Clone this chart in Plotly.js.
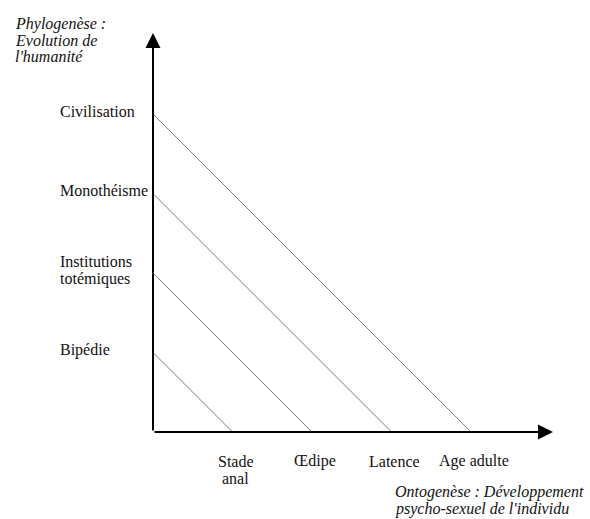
<!DOCTYPE html>
<html><head><meta charset="utf-8">
<script src="https://cdn.plot.ly/plotly-3.0.1.min.js"></script>
<style>html,body{margin:0;padding:0;background:#fff}</style>
</head><body>
<div id="chart" style="width:590px;height:519px"></div>
<script>
// ---- data ----
const phyloLabels = ["Bipédie", "Institutions\ntotémiques", "Monothéisme", "Civilisation"];
const phyloLevels = [1, 2, 3, 4];
const ontoLabels = ["Stade\nanal", "Œdipe", "Latence", "Age adulte"];
const ontoLevels = [1, 2, 3, 4];
const yAxisTitle = "Phylogenèse :\nEvolution de\nl'humanité";
const xAxisTitle = "Ontogenèse : Développement\npsycho-sexuel de l'individu";

// ---- style ----
const FONT = "Liberation Serif";
const TXT = "#111";
const xMax = 5.03, yMax = 5.02;

const traces = phyloLevels.map((lv, i) => ({
  type: "scatter", mode: "lines",
  x: [0, ontoLevels[i]], y: [lv, 0],
  line: {color: "#7c7c7c", width: 1},
  hoverinfo: "skip", showlegend: false
}));

const ann = [];
ann.push({xref: "x", yref: "y", axref: "x", ayref: "y", x: xMax, y: 0, ax: 0, ay: 0,
  text: "", showarrow: true, arrowhead: 2, arrowsize: 1.5, arrowwidth: 2, arrowcolor: "#000", standoff: 0});
ann.push({xref: "x", yref: "y", axref: "x", ayref: "y", x: 0, y: yMax, ax: 0, ay: 0,
  text: "", showarrow: true, arrowhead: 2, arrowsize: 1.5, arrowwidth: 2, arrowcolor: "#000", standoff: 0});

phyloLabels.forEach((lab, i) => {
  const lines = lab.split("\n");
  const n = lines.length;
  lines.forEach((t, j) => {
    ann.push({xref: "paper", yref: "y", x: -0.2375, y: phyloLevels[i], xanchor: "left", yanchor: "middle",
      yshift: 18 * ((n - 1) / 2 - j) + 3, text: t, showarrow: false,
      font: {family: FONT, size: 16, color: TXT}});
  });
});
ontoLabels.forEach((lab, i) => {
  const lines = lab.split("\n");
  lines.forEach((t, j) => {
    ann.push({xref: "x", yref: "y", x: ontoLevels[i], y: 0, xanchor: "center", yanchor: "middle",
      yshift: -29 - 17 * j, xshift: 3, text: t, showarrow: false,
      font: {family: FONT, size: 16, color: TXT}});
  });
});
yAxisTitle.split("\n").forEach((t, j) => {
  ann.push({xref: "paper", yref: "paper", x: -0.35, y: 1, xanchor: "left", yanchor: "middle",
    yshift: 9 - 16 * j, text: t, showarrow: false,
    font: {family: FONT, size: 16, color: TXT, style: "italic"}});
});
xAxisTitle.split("\n").forEach((t, j) => {
  ann.push({xref: "paper", yref: "paper", x: 0.6, y: 0, xanchor: "left", yanchor: "middle",
    yshift: -60 - 17 * j, text: t, showarrow: false,
    font: {family: FONT, size: 16, color: TXT, style: "italic"}});
});

const layout = {
  width: 590, height: 519,
  margin: {l: 153, r: 37, t: 33, b: 87, pad: 0},
  paper_bgcolor: "#fff", plot_bgcolor: "#fff",
  xaxis: {range: [0, xMax], visible: false, fixedrange: true},
  yaxis: {range: [0, yMax], visible: false, fixedrange: true},
  annotations: ann,
  showlegend: false
};
Plotly.newPlot("chart", traces, layout, {displayModeBar: false, staticPlot: true});
</script>
</body></html>
